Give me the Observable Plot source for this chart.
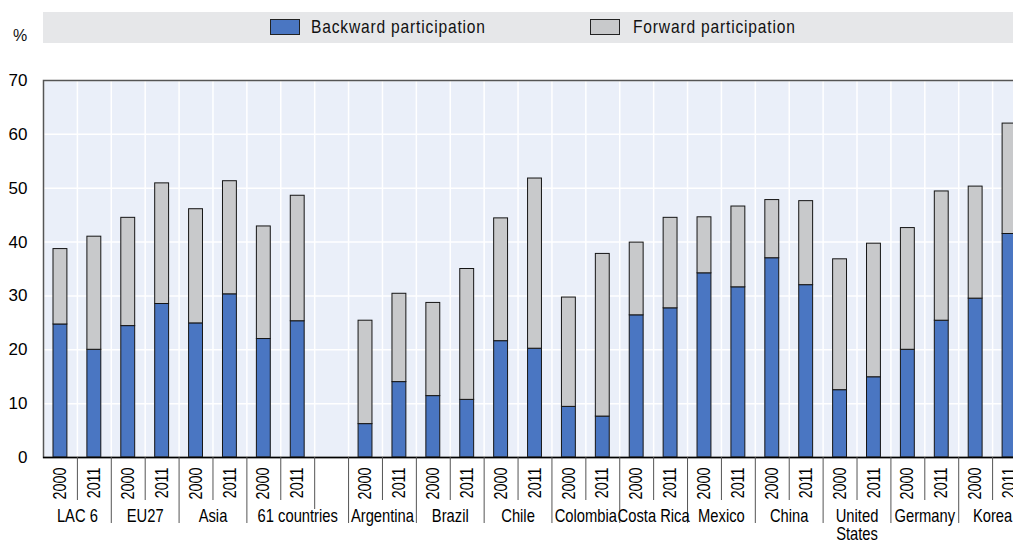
<!DOCTYPE html>
<html>
<head>
<meta charset="utf-8">
<script src="https://cdn.jsdelivr.net/npm/d3@7"></script>
<script src="https://cdn.jsdelivr.net/npm/@observablehq/plot@0.6"></script>
<style>
  html, body { margin: 0; padding: 0; overflow: hidden; background: #fff; }
  body { font-family: "Liberation Sans", Arial, sans-serif; color: #111; }
  #wrap { position: relative; width: 1030px; }
  #hdr { position: relative; height: 45px; }
  #pct { position: absolute; left: 13px; top: 28px; font-size: 16px; line-height: 16px; }
  #legend { position: absolute; left: 43px; top: 12px; width: 987px; height: 31px; background: #e6e7e9; }
  .sw { position: absolute; top: 7px; width: 28px; height: 14px; border: 1px solid #222; }
  .lt { position: absolute; top: 4px; font-size: 19px; line-height: 22px; letter-spacing: 1px;
        white-space: nowrap; transform: scaleX(0.82); transform-origin: 0 50%; color: #111; }
  #chart svg { overflow: visible; }
</style>
</head>
<body>
<div id="wrap">
  <div id="hdr">
    <span id="pct">%</span>
    <div id="legend"></div>
  </div>
  <div id="chart"></div>
</div>
<script>
// ---- data ----
const groups = ["LAC 6", "EU27", "Asia", "61 countries", "Argentina", "Brazil", "Chile", "Colombia",
                "Costa Rica", "Mexico", "China", "United\nStates", "Germany", "Korea"];
const years = ["2000", "2011"];
const backward2000 = [24.7, 24.4, 24.9, 22.0, 6.2, 11.4, 21.6, 9.4, 26.4, 34.2, 37.0, 12.5, 20.0, 29.5];
const forward2000  = [14.0, 20.1, 21.2, 20.9, 19.2, 17.3, 22.8, 20.3, 13.5, 10.4, 10.8, 24.3, 22.6, 20.8];
const backward2011 = [20.0, 28.5, 30.3, 25.3, 14.0, 10.7, 20.2, 7.6, 27.7, 31.6, 32.0, 14.9, 25.4, 41.5];
const forward2011  = [21.0, 22.4, 21.0, 23.3, 16.4, 24.3, 31.6, 30.2, 16.8, 15.0, 15.6, 24.8, 24.0, 20.5];
const gapAfter = "61 countries";
const seriesNames = ["Backward participation", "Forward participation"];
const seriesColors = ["#4a76c2", "#c8c9cb"];
const yTicks = [0, 10, 20, 30, 40, 50, 60, 70];

// ---- build table ----
const slots = [];
groups.forEach(g => {
  years.forEach(y => slots.push(g + "|" + y));
  if (g === gapAfter) slots.push("gap");
});
const rows = [];
groups.forEach((g, i) => {
  const bw = [backward2000[i], backward2011[i]];
  const fw = [forward2000[i], forward2011[i]];
  years.forEach((y, j) => {
    rows.push({slot: g + "|" + y, series: seriesNames[0], value: bw[j]});
    rows.push({slot: g + "|" + y, series: seriesNames[1], value: fw[j]});
  });
});
const yearSep = groups.map(g => g + "|" + years[1]);
const groupSep = groups.slice(1).map(g => g + "|" + years[0]);

// ---- layout ----
const W = 1030, H = 495, mL = 43, mR = 4, mT = 35, mB = 83;
const pInner = 0.59;
const step = (W - mL - mR) / slots.length;
const font = '"Liberation Sans", Arial, sans-serif';
const cond = 0.82; // narrow-face emulation

// legend (positions relative to the grey band)
const leg = document.getElementById("legend");
const legPos = [[227, 268], [547, 590]];
seriesNames.forEach((s, i) => {
  const sw = document.createElement("div");
  sw.className = "sw";
  sw.style.left = legPos[i][0] + "px";
  sw.style.background = seriesColors[i];
  const t = document.createElement("span");
  t.className = "lt";
  t.style.left = legPos[i][1] + "px";
  t.textContent = s;
  leg.appendChild(sw); leg.appendChild(t);
});

const labelStyle = {frameAnchor: "bottom", dy: 52, lineAnchor: "top", lineHeight: 1.0, fontSize: 18, fill: "#000"};

const chart = Plot.plot({
  width: W, height: H,
  marginLeft: mL, marginRight: mR, marginTop: mT, marginBottom: mB,
  style: {fontFamily: font, fontSize: "16px", color: "#000", background: "transparent", overflow: "visible"},
  x: {type: "band", domain: slots, paddingInner: pInner, paddingOuter: pInner / 2, round: false, axis: null},
  y: {domain: [0, 70], axis: null},
  color: {domain: seriesNames, range: seriesColors},
  marks: [
    Plot.frame({fill: "#eaeff9", stroke: null}),
    Plot.gridY({ticks: yTicks, stroke: "#fff", strokeOpacity: 1, strokeWidth: 1.5}),
    Plot.gridX({ticks: slots, dx: -step / 2, stroke: "#fff", strokeOpacity: 1, strokeWidth: 1.5}),
    Plot.barY(rows, {x: "slot", y: "value", fill: "series", stroke: "#151515", strokeWidth: 1}),
    Plot.frame({stroke: "#555", strokeWidth: 1.5}),
    Plot.ruleY([0], {stroke: "#000", strokeWidth: 1.5}),
    Plot.axisY({ticks: yTicks, tickSize: 0, tickPadding: 16, fontSize: 17, label: null}),
    Plot.axisX({ticks: slots.filter(s => s !== "gap"), tickSize: 0, tickPadding: 10, tickRotate: -90,
                tickFormat: d => d.split("|")[1], fontSize: 17.5, label: null}),
    Plot.axisX({ticks: yearSep, tickSize: 43, tickFormat: () => "", dx: -step / 2, stroke: "#555", label: null}),
    Plot.axisX({ticks: ["gap"], tickSize: 52, tickFormat: () => "", dx: -step / 2, stroke: "#555", label: null}),
    Plot.axisX({ticks: groupSep, tickSize: 66, tickFormat: () => "", dx: -step / 2, stroke: "#555", label: null}),
    // group labels centred under their two bars
    Plot.text(groups.filter(g => g !== gapAfter), {x: g => g + "|" + years[0], dx: step / 2, ...labelStyle}),
    // the aggregate before the gap is centred under its bars plus the gap
    Plot.text([gapAfter], {x: g => g + "|" + years[1], ...labelStyle})
  ]
});

// condense x-side labels horizontally (along their own baseline)
chart.querySelectorAll("text").forEach(t => {
  const g = t.closest("g[aria-label]");
  const lab = g ? (g.getAttribute("aria-label") || "") : "";
  if (lab.startsWith("y-axis")) return;
  const x = parseFloat(t.getAttribute("x")) || 0;
  const tr = t.getAttribute("transform") || "";
  t.setAttribute("transform", `${tr} translate(${x},0) scale(${cond},1) translate(${-x},0)`);
});

document.getElementById("chart").appendChild(chart);
</script>
</body>
</html>
